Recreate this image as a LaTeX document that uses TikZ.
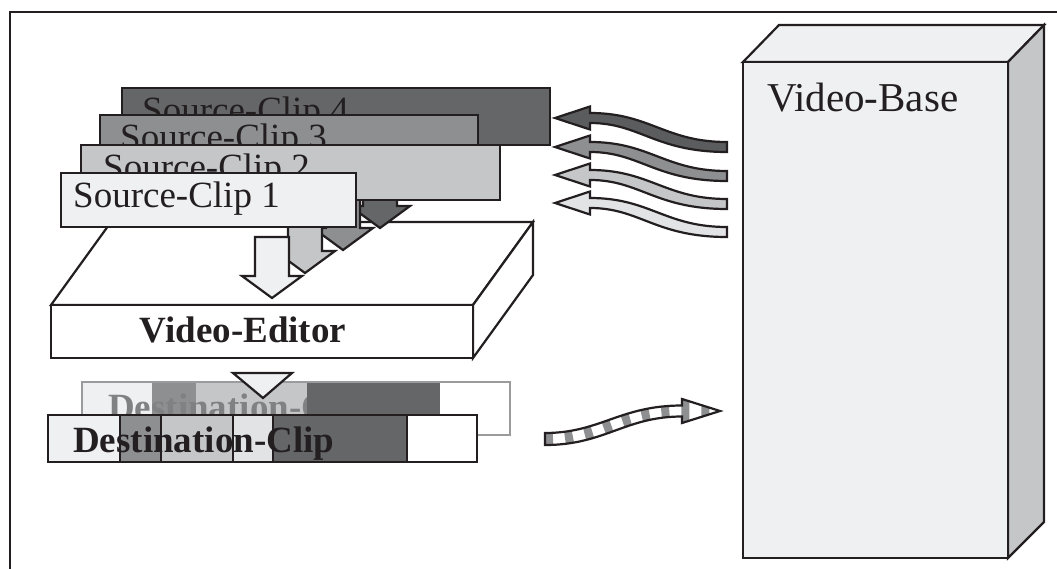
\documentclass[tikz,border=0pt]{standalone}
\usepackage{fontspec}
\setmainfont{Liberation Serif}
\definecolor{cA}{HTML}{EFF0F2}
\definecolor{cB}{HTML}{C5C6C8}
\definecolor{cC}{HTML}{8E8F91}
\definecolor{cD}{HTML}{656668}
\definecolor{cE}{HTML}{E2E3E5}
\definecolor{cW}{HTML}{5B5C5E}
\definecolor{ink}{HTML}{231F20}
\definecolor{faded}{HTML}{808183}
\definecolor{fadeline}{HTML}{9A9B9D}
\tikzset{
  ol/.style={draw=ink, line width=2.2pt, line join=miter},
  cliptext/.style={anchor=base west, inner sep=0pt, text=ink, font=\fontsize{37}{40}\selectfont},
  boldtext/.style={inner sep=0pt, text=ink, font=\fontsize{37}{40}\selectfont\bfseries},
}
\newcommand\clipdownarrow[4]{% center x, tip y, shaft top, colour
  \filldraw[ol, fill=#4] ({#1-17},#3) -- ({#1+17},#3) -- ({#1+17},{#2-22}) -- ({#1+30},{#2-22}) -- (#1,#2) -- ({#1-30},{#2-22}) -- ({#1-17},{#2-22}) -- cycle;}
\newcommand\wavearrow[2]{% head y, colour
  \filldraw[ol, fill=#2] (555,#1) -- (590,{#1-11.5}) -- (590,{#1-5}) .. controls (650,{#1-5}) and (665,{#1+24}) .. (727,{#1+24}) -- (727,{#1+34}) .. controls (655,{#1+34}) and (640,{#1+5}) .. (590,{#1+5}) -- (590,{#1+11.5}) -- cycle;}
\begin{document}
\begin{tikzpicture}[x=1pt,y=-1pt]
\useasboundingbox (0,0) rectangle (1057,569);
% frame
\draw[draw=ink, line width=2.5pt] (10,569) -- (10,12) -- (1057,12);

% Video-Base
\filldraw[ol, fill=cA] (743,62) -- (779,25) -- (1044,25) -- (1008,62) -- cycle;
\filldraw[ol, fill=cB] (1008,62) -- (1044,25) -- (1044,522) -- (1008,558) -- cycle;
\filldraw[ol, fill=cA] (743,62) rectangle (1008,558);
\node[cliptext, font=\fontsize{41}{44}\selectfont] (vb) at (767,112) {Video-Base};

% wavy arrows from Video-Base
\wavearrow{118}{cW}
\wavearrow{147}{cC}
\wavearrow{175}{cB}
\wavearrow{203}{cE}

% Video-Editor
\filldraw[ol, fill=white] (51,305) -- (111,222) -- (533,222) -- (473,305) -- cycle;
\filldraw[ol, fill=white] (473,305) -- (533,222) -- (533,275) -- (473,358) -- cycle;
\filldraw[ol, fill=white] (51,305) rectangle (473,358);
\node[boldtext, anchor=base] (ve) at (243,342) {Video-Editor};

% source clips with their arrows
\filldraw[ol, fill=cD] (122,88) rectangle (550,145);
\node[cliptext] (sc4) at (142,123) {Source-Clip 4};
\clipdownarrow{380}{228}{150}{cD}
\filldraw[ol, fill=cC] (100,115) rectangle (478,172);
\node[cliptext] (sc3) at (120,150) {Source-Clip 3};
\clipdownarrow{343}{250}{170}{cC}
\filldraw[ol, fill=cB] (81,145) rectangle (500,200);
\node[cliptext] (sc2) at (103,180) {Source-Clip 2};
\clipdownarrow{305}{273}{200}{cB}
\filldraw[ol, fill=cA] (61,173) rectangle (356,227);
\node[cliptext] (sc1) at (73,208) {Source-Clip 1};
\clipdownarrow{272}{298}{237}{cA}

% back destination clip
\fill[cA] (82,382) rectangle (152,435);
\fill[cC] (152,382) rectangle (196,435);
\fill[cB] (196,382) rectangle (307,435);
\node[boldtext, anchor=base west, text=faded] (dcb) at (108,419) {Destination-Clip};
\fill[cD] (307,382) rectangle (440,435);
\fill[white] (440,382) rectangle (510,435);
\draw[draw=fadeline, line width=2.5pt] (82,382) rectangle (510,435);

% triangle from editor
\filldraw[ol, fill=cA] (233,373) -- (292,373) -- (263,398) -- cycle;

% front destination clip
\fill[cA] (48,415) rectangle (120,462);
\fill[cC] (120,415) rectangle (161,462);
\fill[cB] (161,415) rectangle (233,462);
\fill[cE] (233,415) rectangle (273,462);
\fill[cD] (273,415) rectangle (407,462);
\fill[white] (407,415) rectangle (477,462);
\draw[ol] (120,415) -- (120,462) (161,415) -- (161,462) (233,415) -- (233,462) (273,415) -- (273,462) (407,415) -- (407,462);
\draw[ol] (48,415) rectangle (477,462);
\node[boldtext, anchor=base west] (dcf) at (73,452) {Destination-Clip};

% striped arrow to Video-Base
\begin{scope}
\clip (545,433) .. controls (600,433) and (620,405.5) .. (682,405.5) -- (682,399) -- (720,411) -- (682,423) -- (682,416.5) .. controls (625,416.5) and (605,445) .. (545,445) -- cycle;
\fill[white] (540,390) rectangle (725,450);
\draw[cC, line width=30pt, dash pattern=on 8pt off 12pt] (545,439) .. controls (600,439) and (620,411) .. (682,411) -- (722,411);
\end{scope}
\draw[ol] (545,433) .. controls (600,433) and (620,405.5) .. (682,405.5) -- (682,399) -- (720,411) -- (682,423) -- (682,416.5) .. controls (625,416.5) and (605,445) .. (545,445) -- cycle;
\end{tikzpicture}
\end{document}
